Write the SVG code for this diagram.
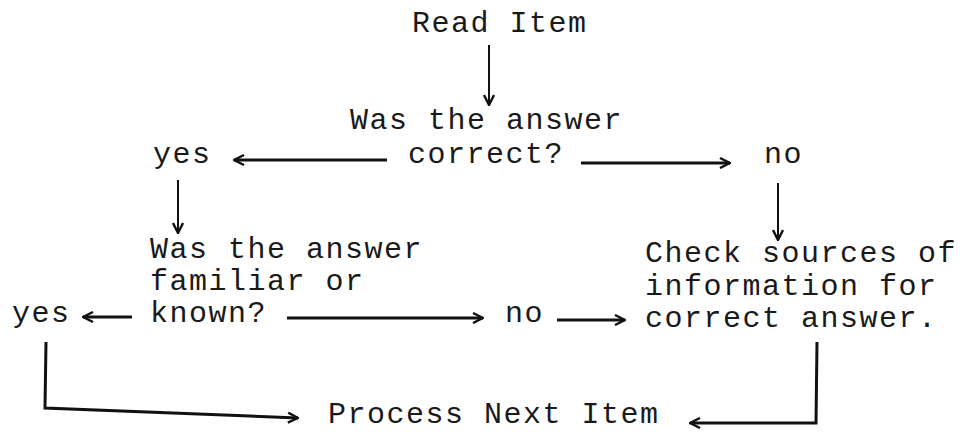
<svg xmlns="http://www.w3.org/2000/svg" width="964" height="437" viewBox="0 0 964 437">
  <style>
    text { font-family: "Liberation Mono", "Courier New", monospace; font-size: 30px; letter-spacing: 1.5px; fill: #1a1a1a; }
    .c { fill: none; stroke: #111; stroke-width: 2; }
    .t { fill: none; stroke: #111; stroke-width: 3; }
  </style>
  <defs>
    <marker id="ah" viewBox="0 0 12 12" refX="11" refY="6" markerWidth="12" markerHeight="12" markerUnits="userSpaceOnUse" orient="auto">
      <path d="M1,1 L11,6 L1,11" fill="none" stroke="#111" stroke-width="2.4"/>
    </marker>
  </defs>
  <rect width="964" height="437" fill="#fff"/>

  <g id="read-item"><text x="412" y="32">Read Item</text></g>
  <g id="was-correct">
    <text x="350" y="129">Was the answer</text>
    <text x="408" y="163">correct?</text>
  </g>
  <g id="yes-1"><text x="153" y="163">yes</text></g>
  <g id="no-1"><text x="764" y="163">no</text></g>
  <g id="was-familiar">
    <text x="150" y="258">Was the answer</text>
    <text x="150" y="290">familiar or</text>
    <text x="150" y="322">known?</text>
  </g>
  <g id="check-sources">
    <text x="645" y="262">Check sources of</text>
    <text x="645" y="295">information for</text>
    <text x="645" y="327">correct answer.</text>
  </g>
  <g id="yes-2"><text x="12" y="322">yes</text></g>
  <g id="no-2"><text x="505" y="322">no</text></g>
  <g id="process-next"><text x="328" y="423">Process Next Item</text></g>

  <g id="connectors">
    <path class="c" d="M489,45 L489,105" marker-end="url(#ah)"/>
    <path class="t" d="M387,160 L234,160" marker-end="url(#ah)"/>
    <path class="t" d="M581,163 L730,163" marker-end="url(#ah)"/>
    <path class="c" d="M178,180 L178,233" marker-end="url(#ah)"/>
    <path class="c" d="M778,183 L778,240" marker-end="url(#ah)"/>
    <path class="t" d="M132,317 L83,317" marker-end="url(#ah)"/>
    <path class="t" d="M287,318 L483,318" marker-end="url(#ah)"/>
    <path class="t" d="M557,320 L625,320" marker-end="url(#ah)"/>
    <path class="t" d="M46,342 L45,408 L298,418" marker-end="url(#ah)"/>
    <path class="t" d="M817,342 L816,423 L690,423" marker-end="url(#ah)"/>
  </g>
</svg>
